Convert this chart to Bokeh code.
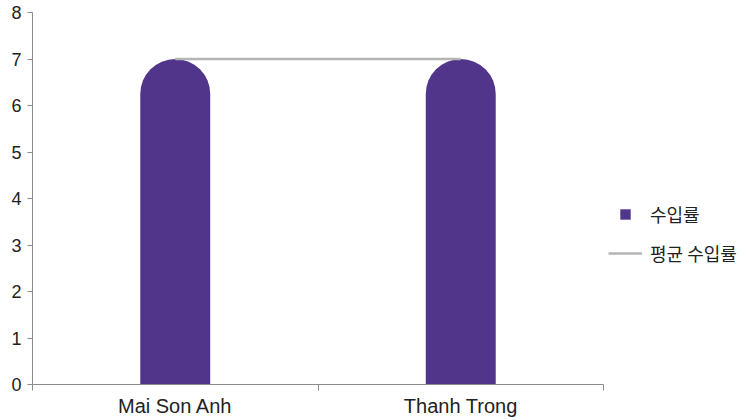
from bokeh.plotting import figure
from bokeh.models import Range1d, FixedTicker, Legend, LegendItem, ColumnDataSource
from bokeh.embed import file_html
from bokeh.resources import INLINE

categories = ["Mai Son Anh", "Thanh Trong"]
rates = [7, 7]
avg_rates = [7, 7]
y_ticks = [0, 1, 2, 3, 4, 5, 6, 7, 8]
legend_labels = ["수입률", "평균 수입률"]

BAR = "#51358A"
LINE = "#B5B5B5"
AXIS = "#8C8C8C"
TEXT = "#222222"
FONT = "Liberation Sans"
KFONT = "Noto Sans CJK KR"

xs = [i + 0.5 for i in range(len(categories))]
src = ColumnDataSource(dict(x=xs, top=rates, avg=avg_rates))

p = figure(frame_width=571, frame_height=372, output_backend="svg", toolbar_location=None,
           x_range=Range1d(0, len(categories)), y_range=Range1d(0, 8),
           min_border_left=32, min_border_top=12, min_border_bottom=20,
           min_border_right=0, outline_line_color=None)
p.grid.visible = False

p.vbar(x="x", top="top", bottom=0, width=0.245, source=src, fill_color=BAR,
       line_color=None, border_radius=(35, 35, 0, 0))
line_r = p.line(x="x", y="avg", source=src, line_color=LINE, line_width=2.5)
sq_r = p.scatter(x=[float("nan")], y=[float("nan")], marker="square", size=8,
                 fill_color=BAR, line_color=None)

# y axis
p.yaxis.ticker = FixedTicker(ticks=y_ticks)
p.yaxis.minor_tick_line_color = None
p.yaxis.major_tick_in = 0
p.yaxis.major_tick_out = 5
p.yaxis.axis_line_color = AXIS
p.yaxis.major_tick_line_color = AXIS
p.yaxis.major_label_text_font = FONT
p.yaxis.major_label_text_font_size = "18px"
p.yaxis.major_label_text_color = TEXT
p.yaxis.major_label_standoff = 6

# x axis
p.xaxis.ticker = FixedTicker(ticks=xs, minor_ticks=list(range(len(categories) + 1)))
p.xaxis.major_label_overrides = {x: c for x, c in zip(xs, categories)}
p.xaxis.major_tick_line_color = None
p.xaxis.minor_tick_line_color = AXIS
p.xaxis.minor_tick_in = 0
p.xaxis.minor_tick_out = 6
p.xaxis.axis_line_color = AXIS
p.xaxis.major_label_text_font = FONT
p.xaxis.major_label_text_font_size = "20px"
p.xaxis.major_label_text_color = TEXT
p.xaxis.major_label_standoff = 4

legend = Legend(items=[LegendItem(label=legend_labels[0], renderers=[sq_r]),
                       LegendItem(label=legend_labels[1], renderers=[line_r])],
                location=(5, 118), border_line_color=None, background_fill_alpha=0,
                label_text_font=KFONT, label_text_font_size="18px", label_text_color=TEXT,
                glyph_width=34, glyph_height=26, label_height=26, spacing=13,
                label_standoff=8, padding=0, margin=0)
p.add_layout(legend, "right")

open("out.html", "w").write(file_html(p, INLINE))
